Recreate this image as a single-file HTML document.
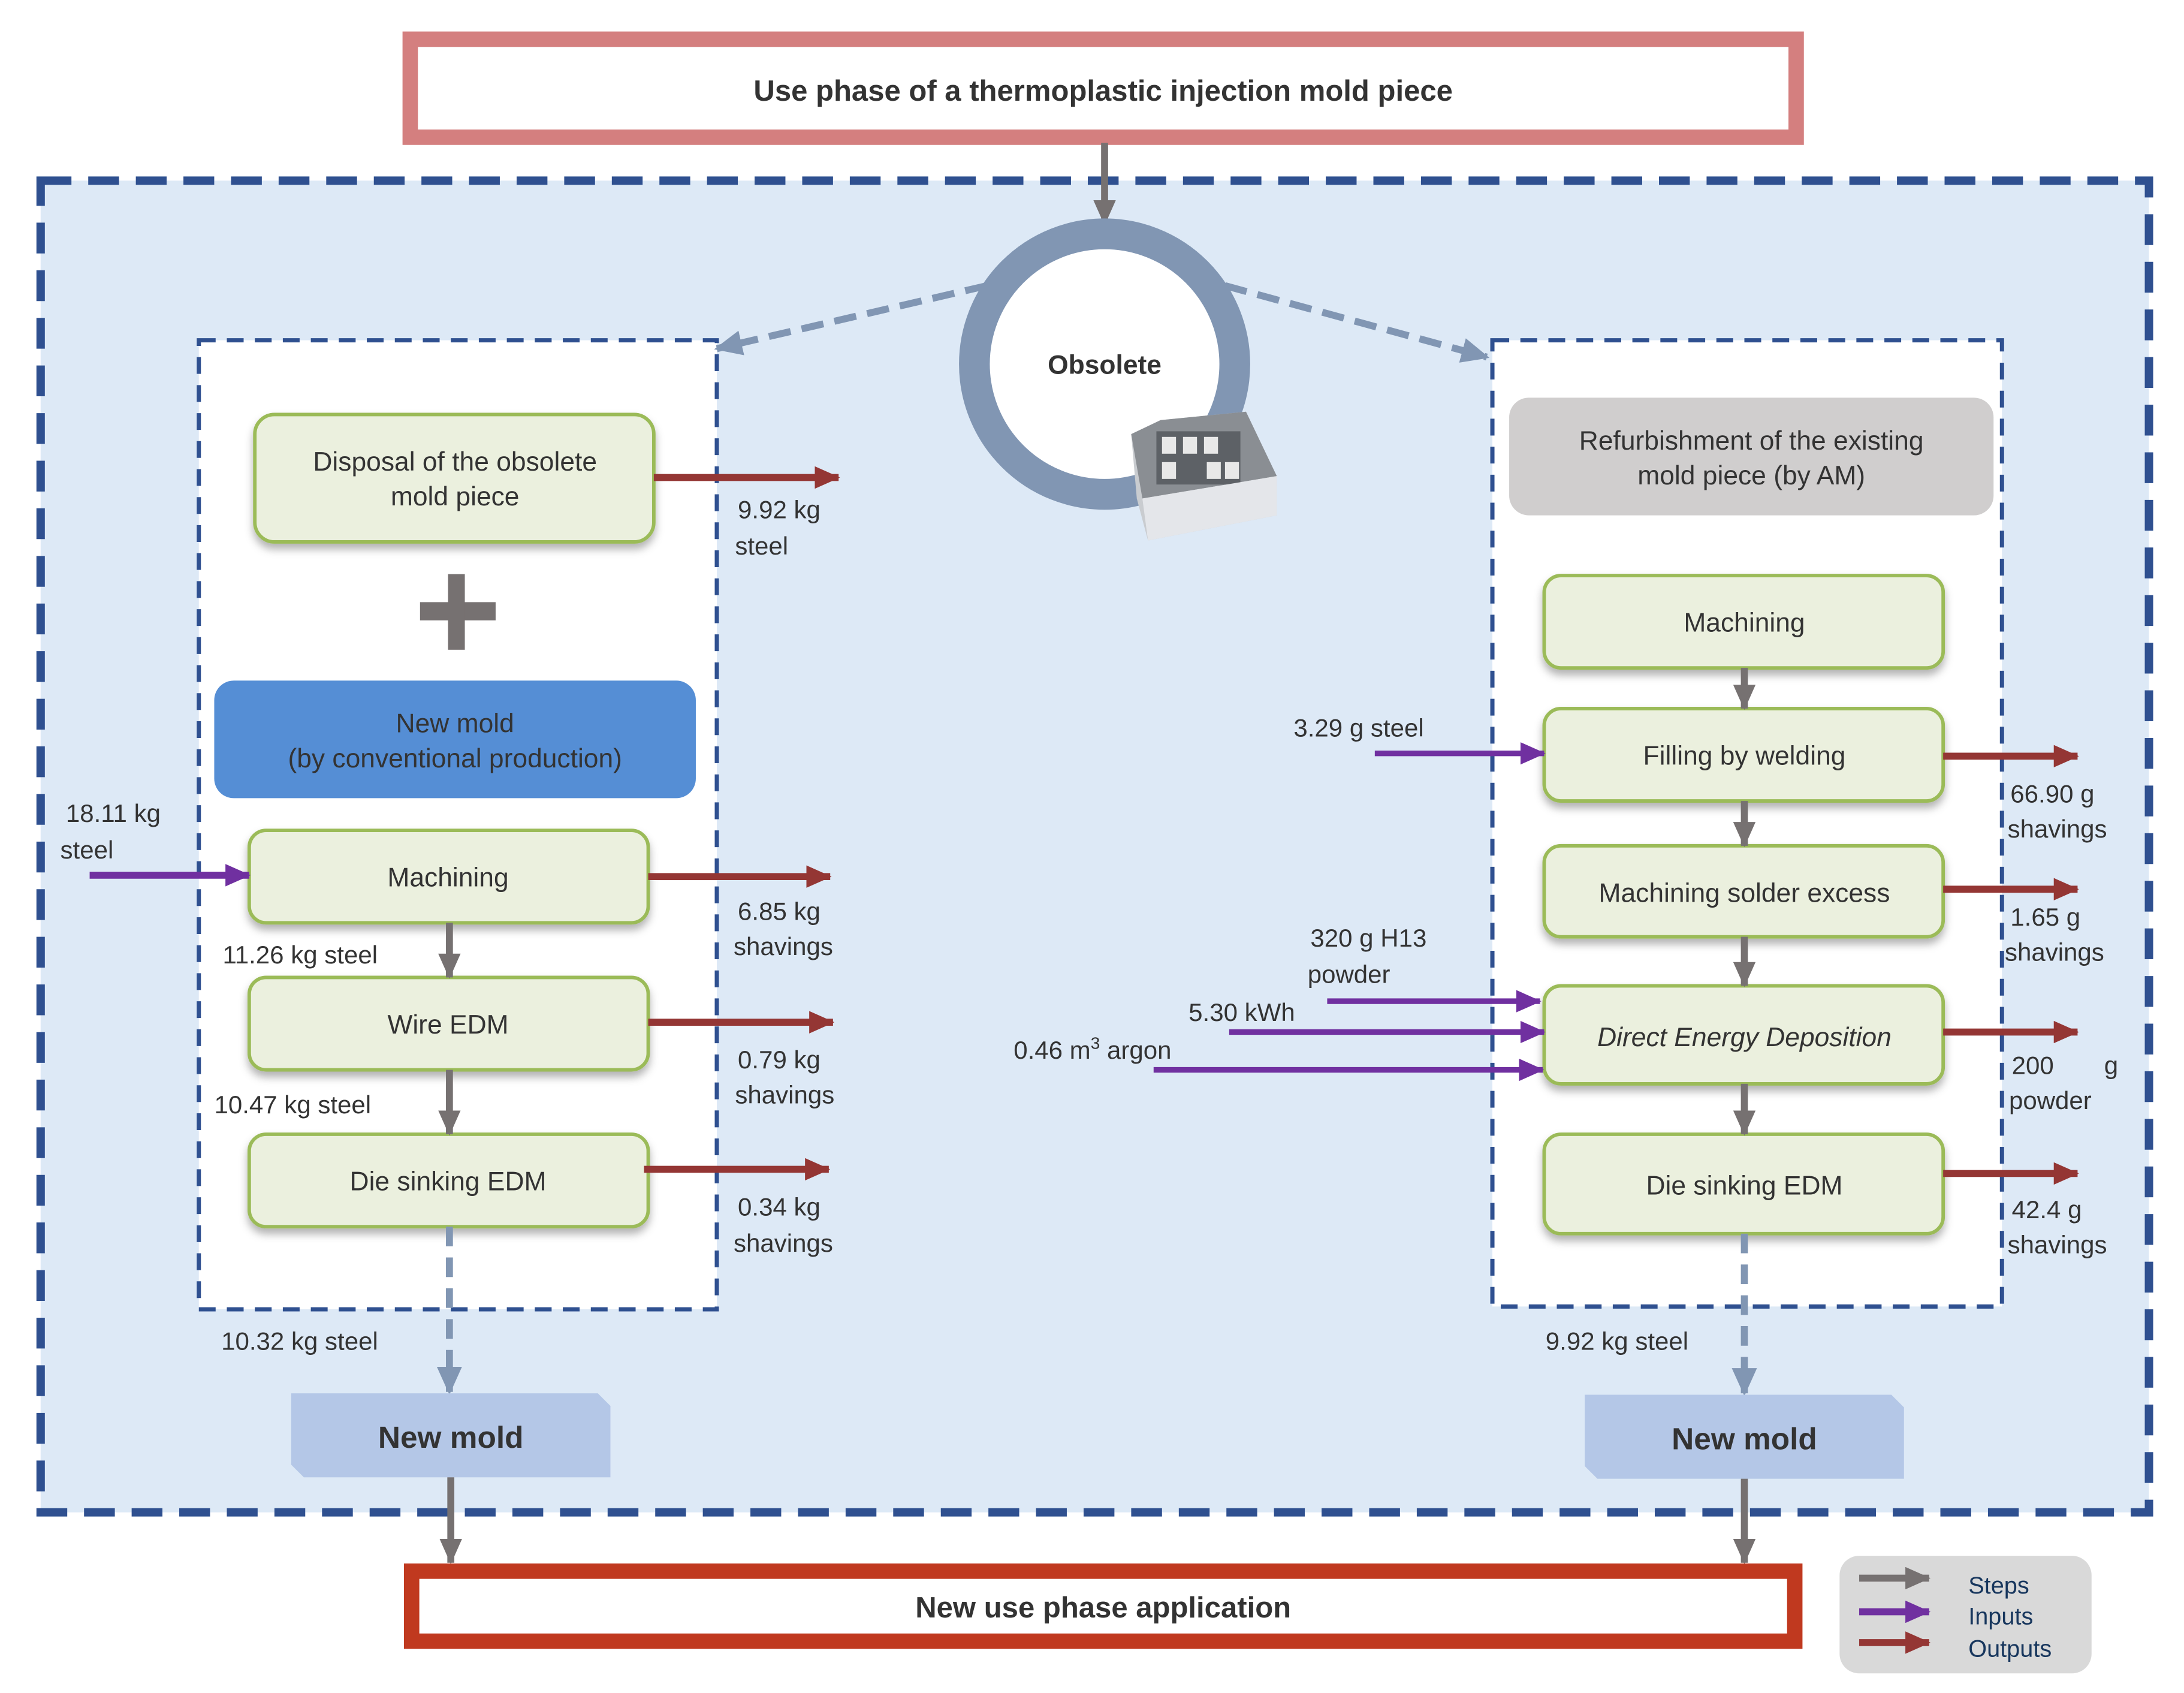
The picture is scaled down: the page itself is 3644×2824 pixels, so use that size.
<!DOCTYPE html>
<html><head><meta charset="utf-8"><style>
html,body{margin:0;padding:0;background:#fff}
svg{display:block}
text{font-family:"Liberation Sans",sans-serif;fill:#333}
</style></head><body>
<svg width="3644" height="2824" viewBox="0 0 1560 1209" xmlns="http://www.w3.org/2000/svg">
<defs>
<marker id="g" markerUnits="userSpaceOnUse" markerWidth="18" markerHeight="16" refX="17" refY="8" orient="auto"><path d="M0,0 L18,8 L0,16 z" fill="#767171"/></marker>
<marker id="p" markerUnits="userSpaceOnUse" markerWidth="18" markerHeight="16" refX="17" refY="8" orient="auto"><path d="M0,0 L18,8 L0,16 z" fill="#7030a0"/></marker>
<marker id="r" markerUnits="userSpaceOnUse" markerWidth="18" markerHeight="16" refX="17" refY="8" orient="auto"><path d="M0,0 L18,8 L0,16 z" fill="#943634"/></marker>
<marker id="b" markerUnits="userSpaceOnUse" markerWidth="20" markerHeight="18" refX="18" refY="9" orient="auto"><path d="M0,0 L20,9 L0,18 z" fill="#8196b3"/></marker>
<filter id="sh" x="-10%" y="-10%" width="120%" height="140%"><feDropShadow dx="0" dy="4" stdDeviation="3" flood-color="#000" flood-opacity="0.3"/></filter>
</defs>

<!-- outer panel -->
<rect x="29" y="129" width="1506" height="951" fill="#dde9f6" stroke="#2f5090" stroke-width="6" stroke-dasharray="22 12"/>

<!-- top box -->
<rect x="293" y="28" width="990" height="70" fill="#fff" stroke="#d47f7f" stroke-width="11"/>
<text x="788" y="72" font-size="21" text-anchor="middle" font-weight="bold" fill="#333">Use phase of a thermoplastic injection mold piece</text>
<line x1="789" y1="102" x2="789" y2="160" stroke="#767171" stroke-width="5" marker-end="url(#g)"/>

<!-- inner dashed boxes -->
<rect x="142" y="243" width="370" height="692" fill="#fff" stroke="#2f5090" stroke-width="3" stroke-dasharray="12 8"/>
<rect x="1066" y="243" width="364" height="690" fill="#fff" stroke="#2f5090" stroke-width="3" stroke-dasharray="12 8"/>

<!-- dashed connectors from circle -->
<line x1="705" y1="204" x2="512" y2="249" stroke="#8196b3" stroke-width="5" stroke-dasharray="16 8" marker-end="url(#b)"/>
<line x1="875" y1="204" x2="1062" y2="255" stroke="#8196b3" stroke-width="5" stroke-dasharray="16 8" marker-end="url(#b)"/>

<!-- circle -->
<circle cx="789" cy="260" r="93" fill="#fff" stroke="#8196b3" stroke-width="22"/>
<text x="789" y="267" font-size="19" text-anchor="middle" font-weight="bold">Obsolete</text>
<!-- mold image approximation -->
<g>
<polygon points="829,300 890,294 912,340 912,368 820,386 812,356 808,310" fill="#c9ccd0"/>
<polygon points="829,300 890,294 912,340 816,356 808,310" fill="#8a8e93"/>
<rect x="826" y="308" width="60" height="38" fill="#5d6166"/>
<rect x="830" y="312" width="10" height="12" fill="#e8e8e8"/><rect x="845" y="312" width="10" height="12" fill="#e8e8e8"/><rect x="860" y="312" width="10" height="12" fill="#e8e8e8"/>
<rect x="830" y="330" width="10" height="12" fill="#e8e8e8"/><rect x="862" y="330" width="10" height="12" fill="#e8e8e8"/><rect x="875" y="330" width="10" height="12" fill="#e8e8e8"/>
<polygon points="816,356 912,340 912,368 820,386" fill="#e4e6ea"/>
</g>

<!-- LEFT column -->
<rect x="182" y="296" width="285" height="91" rx="14" fill="#ebf0de" stroke="#9bbb59" stroke-width="2.5" filter="url(#sh)"/>
<text x="325" y="336" font-size="19" text-anchor="middle">Disposal of the obsolete</text>
<text x="325" y="361" font-size="19" text-anchor="middle">mold piece</text>
<line x1="467" y1="341" x2="599" y2="341" stroke="#943634" stroke-width="5" marker-end="url(#r)"/>
<text x="527" y="370" font-size="18">9.92 kg</text>
<text x="525" y="396" font-size="18">steel</text>

<rect x="300" y="430" width="54" height="13" fill="#767171"/>
<rect x="320" y="410" width="12" height="54" fill="#767171"/>

<rect x="153" y="486" width="344" height="84" rx="14" fill="#558ed5"/>
<text x="325" y="523" font-size="19" text-anchor="middle">New mold</text>
<text x="325" y="548" font-size="19" text-anchor="middle">(by conventional production)</text>

<rect x="178" y="593" width="285" height="66" rx="12" fill="#ebf0de" stroke="#9bbb59" stroke-width="2.5" filter="url(#sh)"/>
<text x="320" y="633" font-size="19" text-anchor="middle">Machining</text>
<rect x="178" y="698" width="285" height="66" rx="12" fill="#ebf0de" stroke="#9bbb59" stroke-width="2.5" filter="url(#sh)"/>
<text x="320" y="738" font-size="19" text-anchor="middle">Wire EDM</text>
<rect x="178" y="810" width="285" height="66" rx="12" fill="#ebf0de" stroke="#9bbb59" stroke-width="2.5" filter="url(#sh)"/>
<text x="320" y="850" font-size="19" text-anchor="middle">Die sinking EDM</text>

<line x1="64" y1="625" x2="178" y2="625" stroke="#7030a0" stroke-width="5" marker-end="url(#p)"/>
<text x="47" y="587" font-size="18">18.11 kg</text>
<text x="43" y="613" font-size="18">steel</text>

<line x1="321" y1="659" x2="321" y2="698" stroke="#767171" stroke-width="5" marker-end="url(#g)"/>
<text x="159" y="688" font-size="18">11.26 kg steel</text>
<line x1="321" y1="764" x2="321" y2="810" stroke="#767171" stroke-width="5" marker-end="url(#g)"/>
<text x="153" y="795" font-size="18">10.47 kg steel</text>

<line x1="463" y1="626" x2="593" y2="626" stroke="#943634" stroke-width="5" marker-end="url(#r)"/>
<text x="527" y="657" font-size="18">6.85 kg</text>
<text x="524" y="682" font-size="18">shavings</text>
<line x1="463" y1="730" x2="595" y2="730" stroke="#943634" stroke-width="5" marker-end="url(#r)"/>
<text x="527" y="763" font-size="18">0.79 kg</text>
<text x="525" y="788" font-size="18">shavings</text>
<line x1="460" y1="835" x2="592" y2="835" stroke="#943634" stroke-width="5" marker-end="url(#r)"/>
<text x="527" y="868" font-size="18">0.34 kg</text>
<text x="524" y="894" font-size="18">shavings</text>

<line x1="321" y1="876" x2="321" y2="994" stroke="#8196b3" stroke-width="5" stroke-dasharray="14 8" marker-end="url(#b)"/>
<text x="158" y="964" font-size="18">10.32 kg steel</text>

<polygon points="208,995 427,995 436,1004 436,1055 217,1055 208,1046" fill="#b4c7e7"/>
<text x="322" y="1034" font-size="22" text-anchor="middle" font-weight="bold">New mold</text>
<line x1="322" y1="1055" x2="322" y2="1116" stroke="#767171" stroke-width="5" marker-end="url(#g)"/>

<!-- RIGHT column -->
<rect x="1078" y="284" width="346" height="84" rx="14" fill="#d0cece"/>
<text x="1251" y="321" font-size="19" text-anchor="middle">Refurbishment of the existing</text>
<text x="1251" y="346" font-size="19" text-anchor="middle">mold piece (by AM)</text>

<rect x="1103" y="411" width="285" height="66" rx="12" fill="#ebf0de" stroke="#9bbb59" stroke-width="2.5" filter="url(#sh)"/>
<text x="1246" y="451" font-size="19" text-anchor="middle">Machining</text>
<rect x="1103" y="506" width="285" height="66" rx="12" fill="#ebf0de" stroke="#9bbb59" stroke-width="2.5" filter="url(#sh)"/>
<text x="1246" y="546" font-size="19" text-anchor="middle">Filling by welding</text>
<rect x="1103" y="604" width="285" height="65" rx="12" fill="#ebf0de" stroke="#9bbb59" stroke-width="2.5" filter="url(#sh)"/>
<text x="1246" y="644" font-size="19" text-anchor="middle">Machining solder excess</text>
<rect x="1103" y="704" width="285" height="70" rx="12" fill="#ebf0de" stroke="#9bbb59" stroke-width="2.5" filter="url(#sh)"/>
<text x="1246" y="747" font-size="19" text-anchor="middle" font-style="italic">Direct Energy Deposition</text>
<rect x="1103" y="810" width="285" height="71" rx="12" fill="#ebf0de" stroke="#9bbb59" stroke-width="2.5" filter="url(#sh)"/>
<text x="1246" y="853" font-size="19" text-anchor="middle">Die sinking EDM</text>

<line x1="1246" y1="477" x2="1246" y2="506" stroke="#767171" stroke-width="5" marker-end="url(#g)"/>
<line x1="1246" y1="572" x2="1246" y2="604" stroke="#767171" stroke-width="5" marker-end="url(#g)"/>
<line x1="1246" y1="669" x2="1246" y2="704" stroke="#767171" stroke-width="5" marker-end="url(#g)"/>
<line x1="1246" y1="774" x2="1246" y2="810" stroke="#767171" stroke-width="5" marker-end="url(#g)"/>

<line x1="982" y1="538" x2="1103" y2="538" stroke="#7030a0" stroke-width="4" marker-end="url(#p)"/>
<text x="924" y="526" font-size="18">3.29 g steel</text>
<line x1="948" y1="715" x2="1100" y2="715" stroke="#7030a0" stroke-width="4" marker-end="url(#p)"/>
<text x="936" y="676" font-size="18">320 g H13</text>
<text x="934" y="702" font-size="18">powder</text>
<line x1="878" y1="737" x2="1103" y2="737" stroke="#7030a0" stroke-width="4" marker-end="url(#p)"/>
<text x="849" y="729" font-size="18">5.30 kWh</text>
<line x1="824" y1="764" x2="1102" y2="764" stroke="#7030a0" stroke-width="4" marker-end="url(#p)"/>
<text x="724" y="756" font-size="18">0.46 m<tspan font-size="12" dy="-7">3</tspan><tspan dy="7"> argon</tspan></text>

<line x1="1388" y1="540" x2="1484" y2="540" stroke="#943634" stroke-width="5" marker-end="url(#r)"/>
<text x="1436" y="573" font-size="18">66.90 g</text>
<text x="1434" y="598" font-size="18">shavings</text>
<line x1="1388" y1="635" x2="1484" y2="635" stroke="#943634" stroke-width="5" marker-end="url(#r)"/>
<text x="1436" y="661" font-size="18">1.65 g</text>
<text x="1432" y="686" font-size="18">shavings</text>
<line x1="1388" y1="737" x2="1484" y2="737" stroke="#943634" stroke-width="5" marker-end="url(#r)"/>
<text x="1437" y="767" font-size="18">200</text>
<text x="1503" y="767" font-size="18">g</text>
<text x="1435" y="792" font-size="18">powder</text>
<line x1="1388" y1="838" x2="1484" y2="838" stroke="#943634" stroke-width="5" marker-end="url(#r)"/>
<text x="1437" y="870" font-size="18">42.4 g</text>
<text x="1434" y="895" font-size="18">shavings</text>

<line x1="1246" y1="881" x2="1246" y2="995" stroke="#8196b3" stroke-width="5" stroke-dasharray="14 8" marker-end="url(#b)"/>
<text x="1104" y="964" font-size="18">9.92 kg steel</text>

<polygon points="1132,996 1351,996 1360,1005 1360,1056 1141,1056 1132,1047" fill="#b4c7e7"/>
<text x="1246" y="1035" font-size="22" text-anchor="middle" font-weight="bold">New mold</text>
<line x1="1246" y1="1056" x2="1246" y2="1116" stroke="#767171" stroke-width="5" marker-end="url(#g)"/>

<!-- bottom box -->
<rect x="294" y="1122" width="988" height="50" fill="#fff" stroke="#c0391f" stroke-width="11"/>
<text x="788" y="1155" font-size="21" text-anchor="middle" font-weight="bold">New use phase application</text>

<!-- legend -->
<rect x="1314" y="1111" width="180" height="84" rx="14" fill="#d9d9d9"/>
<line x1="1328" y1="1127" x2="1378" y2="1127" stroke="#767171" stroke-width="5" marker-end="url(#g)"/>
<line x1="1328" y1="1151" x2="1378" y2="1151" stroke="#7030a0" stroke-width="5" marker-end="url(#p)"/>
<line x1="1328" y1="1173" x2="1378" y2="1173" stroke="#943634" stroke-width="5" marker-end="url(#r)"/>
<text x="1406" y="1138" font-size="17" style="fill:#17365d">Steps</text>
<text x="1406" y="1160" font-size="17" style="fill:#17365d">Inputs</text>
<text x="1406" y="1183" font-size="17" style="fill:#17365d">Outputs</text>
</svg>
</body></html>
